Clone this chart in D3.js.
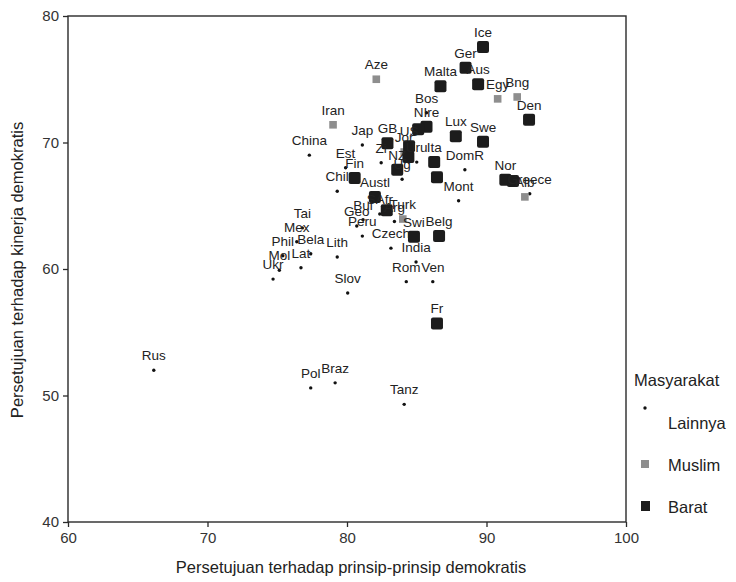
<!DOCTYPE html>
<html lang="id">
<head>
<meta charset="UTF-8">
<title>Persetujuan prinsip vs kinerja demokratis</title>
<script src="https://d3js.org/d3.v7.min.js"></script>
<style>
  body { margin: 0; background: #fff; }
  svg { font-family: "Liberation Sans", Arial, sans-serif; }
</style>
</head>
<body>
<svg width="736" height="582" class="chart"></svg>
<script>
// negara (label), nilai x, nilai y, kelompok
var names = ['Ice','Ger','Aus','Malta','Den','Egy','Bng','Aze','Iran','Bos','NIre','','Lux','Swe',
  'Jap','GB','Jor','US','','Zi','NZ','Uru','Ug','Ita','','DomR','Nor','','Greece','Alb','Mont',
  'China','Est','Fin','Chil','Austl','SAfr','','Bul','Turk','Arg','Geo','Peru','Swi','Belg',
  'Czech','India','Rom','Ven','Tai','Mex','Phil','Bela','Lat','Lith','Mol','Ukr','Slov',
  'Fr','Rus','Pol','Braz','Tanz'];
var xVals = [89.75,88.5,89.4,86.7,93.05,90.8,92.2,82.1,79.0,85.7,85.7,85.1,87.8,89.75,
  81.1,82.9,84.1,84.45,84.4,82.45,83.6,85.0,83.95,86.25,86.45,88.45,91.35,91.9,93.1,92.75,88.0,
  77.3,79.9,80.55,79.3,82.0,82.35,82.85,81.15,84.0,83.4,80.7,81.1,84.8,86.6,
  83.15,84.95,84.25,86.15,76.8,76.4,75.4,77.4,76.7,79.3,75.15,74.7,80.05,
  86.45,66.15,77.4,79.15,84.1];
var yVals = [77.55,75.9,74.6,74.45,71.8,73.45,73.6,75.0,71.4,72.35,71.25,71.05,70.5,70.05,
  69.8,69.95,69.25,69.7,68.85,68.4,67.85,68.45,67.1,68.45,67.25,67.85,67.05,66.95,65.95,65.7,65.4,
  69.0,68.0,67.2,66.15,65.7,64.35,64.65,63.9,63.95,63.75,63.4,62.6,62.55,62.6,
  61.65,60.55,59.0,59.0,63.25,62.15,61.05,61.2,60.1,60.95,59.9,59.2,58.1,
  55.7,52.0,50.6,51.0,49.3];
var groups = ['Barat','Barat','Barat','Barat','Barat','Muslim','Muslim','Muslim','Muslim','Lainnya','Barat','Barat','Barat','Barat',
  'Lainnya','Barat','Muslim','Barat','Barat','Lainnya','Barat','Lainnya','Lainnya','Barat','Barat','Lainnya','Barat','Barat','Lainnya','Muslim','Lainnya',
  'Lainnya','Lainnya','Barat','Lainnya','Barat','Lainnya','Barat','Lainnya','Muslim','Lainnya','Lainnya','Lainnya','Barat','Barat',
  'Lainnya','Lainnya','Lainnya','Lainnya','Lainnya','Lainnya','Lainnya','Lainnya','Lainnya','Lainnya','Lainnya','Lainnya','Lainnya',
  'Barat','Lainnya','Lainnya','Lainnya','Lainnya'];

var xTicks = [60, 70, 80, 90, 100];
var yTicks = [40, 50, 60, 70, 80];
var legendItems = ['Lainnya', 'Muslim', 'Barat'];

var svg = d3.select('.chart');

// skala
var x = d3.scaleLinear().domain([60, 100]).range([68, 626]);
var y = d3.scaleLinear().domain([40, 80]).range([522, 16]);

// bingkai plot
svg.append('rect')
  .attr('x', x(60)).attr('y', y(80))
  .attr('width', x(100) - x(60)).attr('height', y(40) - y(80))
  .attr('fill', 'none').attr('stroke', '#2a2a2a').attr('stroke-width', 1.4);

var xAxis = svg.append('g')
  .attr('transform', 'translate(0,' + y(40) + ')')
  .call(d3.axisBottom(x).tickValues(xTicks).tickSize(5).tickPadding(5));
var yAxis = svg.append('g')
  .attr('transform', 'translate(' + x(60) + ',0)')
  .call(d3.axisLeft(y).tickValues(yTicks).tickSize(5).tickPadding(4));

[xAxis, yAxis].forEach(function (ax) {
  ax.select('.domain').remove();
  ax.selectAll('line').attr('stroke', '#2a2a2a').attr('stroke-width', 1.3);
  ax.selectAll('text').attr('font-size', 15).attr('fill', '#333')
    .attr('font-family', '"Liberation Sans", Arial, sans-serif');
});

// judul sumbu
svg.append('text')
  .attr('x', 351).attr('y', 573)
  .attr('text-anchor', 'middle').attr('font-size', 16.5).attr('fill', '#222')
  .text('Persetujuan terhadap prinsip-prinsip demokratis');
svg.append('text')
  .attr('transform', 'translate(23,270) rotate(-90)')
  .attr('text-anchor', 'middle').attr('font-size', 16.5).attr('fill', '#222')
  .text('Persetujuan terhadap kinerja demokratis');

var points = names.map(function (n, i) {
  return { name: n, x: xVals[i], y: yVals[i], group: groups[i] };
});

var g = svg.append('g');

// titik: Lainnya = titik kecil, Muslim = kotak abu, Barat = kotak hitam
function drawMarker(sel, group) {
  if (group === 'Lainnya') {
    sel.append('circle').attr('r', 1.7).attr('fill', '#111');
  } else if (group === 'Muslim') {
    sel.append('rect').attr('x', -3.8).attr('y', -3.8).attr('width', 7.6).attr('height', 7.6)
      .attr('fill', '#8e8e8e');
  } else {
    sel.append('rect').attr('x', -6).attr('y', -6).attr('width', 12).attr('height', 12)
      .attr('rx', 2).attr('fill', '#1c1c1c');
  }
}

g.selectAll('g.pt')
  .data(points)
  .enter()
  .append('g')
  .attr('class', 'pt')
  .attr('transform', function (d) { return 'translate(' + x(d.x) + ',' + y(d.y) + ')'; })
  .each(function (d) { drawMarker(d3.select(this), d.group); });

// label negara di atas titik
g.selectAll('text.lbl')
  .data(points.filter(function (d) { return d.name !== ''; }))
  .enter()
  .append('text')
  .attr('class', 'lbl')
  .attr('x', function (d) { return x(d.x); })
  .attr('y', function (d) { return y(d.y) - 10; })
  .attr('text-anchor', 'middle')
  .attr('font-size', 13.5)
  .attr('fill', '#222')
  .text(function (d) { return d.name; });

// legenda
var legend = svg.append('g');
legend.append('text')
  .attr('x', 634).attr('y', 386)
  .attr('font-size', 16.5).attr('fill', '#222')
  .text('Masyarakat');
legendItems.forEach(function (k, i) {
  var ly = 429 + i * 42;
  var m = legend.append('g').attr('transform', 'translate(645,' + (k === 'Lainnya' ? ly - 21 : ly - 7) + ')');
  if (k === 'Lainnya') {
    m.append('circle').attr('r', 1.7).attr('fill', '#111');
  } else if (k === 'Muslim') {
    m.append('rect').attr('x', -4).attr('y', -4).attr('width', 8).attr('height', 8).attr('fill', '#8e8e8e');
  } else {
    m.append('rect').attr('x', -4).attr('y', -5).attr('width', 9).attr('height', 10).attr('fill', '#1c1c1c');
  }
  legend.append('text')
    .attr('x', 668).attr('y', ly)
    .attr('font-size', 16.5).attr('fill', '#222')
    .text(k);
});
</script>
</body>
</html>
